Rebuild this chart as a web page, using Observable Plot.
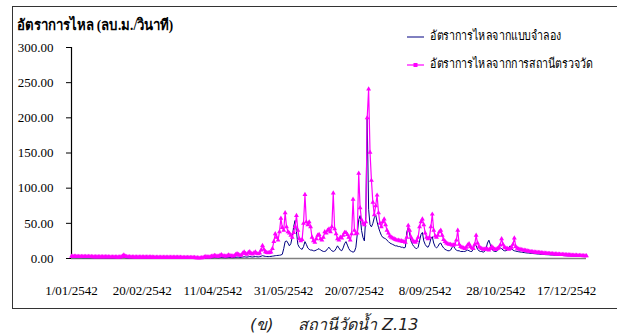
<!DOCTYPE html>
<html>
<head>
<meta charset="utf-8">
<script src="https://cdn.jsdelivr.net/npm/d3@7"></script>
<script src="https://cdn.jsdelivr.net/npm/@observablehq/plot@0.6"></script>
<style>
  html, body { margin: 0; padding: 0; background: #fff; }
  #wrap { position: relative; width: 617px; height: 333px; overflow: hidden; background: #fff;
          font-family: "Liberation Serif", "DejaVu Serif", serif; }
  #frame { position: absolute; left: 12px; top: 6px; width: 700px; height: 302.5px; border: 1.5px solid #333; box-sizing: border-box; }
  #chart { position: absolute; left: 0; top: 0; }
  #title { position: absolute; left: 17px; top: 15px; font-size: 15px; line-height: 20px; font-weight: bold; color: #000; white-space: nowrap;
           transform: scaleX(0.88); transform-origin: 0 50%; }
  .legline { position: absolute; left: 407px; }
  .legtxt { position: absolute; left: 430px; font-size: 13px; line-height: 16px; color: #000; white-space: nowrap;
            transform: scaleX(0.82); transform-origin: 0 50%; }
  .cap { position: absolute; top: 316px; font-size: 16px; line-height: 17px; font-style: italic; color: #222; white-space: nowrap;
         font-family: "DejaVu Sans", "Noto Sans", sans-serif; }
</style>
</head>
<body>
<div id="wrap">
  <div id="frame"></div>
  <div id="chart"></div>
  <div id="title">อัตราการไหล (ลบ.ม./วินาที)</div>
  <svg class="legline" style="top:33px" width="17" height="8"><line x1="0" y1="4" x2="17" y2="4" stroke="#000080" stroke-width="1"/></svg>
  <div class="legtxt" style="top:28px">อัตราการไหลจากแบบจำลอง</div>
  <svg class="legline" style="top:61px" width="17" height="8"><line x1="0" y1="4" x2="17" y2="4" stroke="#ff00ff" stroke-width="1.2"/><rect x="6.5" y="2" width="4" height="4" fill="#ff00ff"/></svg>
  <div class="legtxt" style="top:56px">อัตราการไหลจากการสถานีตรวจวัด</div>
  <div class="cap" style="left:250px">(ข)</div>
  <div class="cap" style="left:298px">สถานีวัดน้ำ Z.13</div>
</div>
<script>
// Day index within 2542 (1999): 0 = 1/01/2542
const tickDays = [0, 50, 100, 150, 200, 250, 300, 350];
const tickLabels = ["1/01/2542", "20/02/2542", "11/04/2542", "31/05/2542", "20/07/2542", "8/09/2542", "28/10/2542", "17/12/2542"];
const yTicks = [0, 50, 100, 150, 200, 250, 300];

// Flow from the model (m3/s), one value per day
const simulated = [
  1.2,1.2,1.2,1.1,1.1,1.1,1.1,1.1,1.0,1.0,
  1.0,1.0,1.0,1.0,1.0,0.9,0.9,0.9,0.9,0.9,
  0.9,0.9,0.9,0.9,0.8,0.8,0.8,0.8,0.8,0.8,
  0.8,0.8,0.8,0.8,0.8,0.9,1.4,1.8,1.2,0.9,
  0.8,0.8,0.8,0.8,0.7,0.7,0.7,0.7,0.7,0.7,
  0.7,0.7,0.7,0.7,0.7,0.7,0.7,0.6,0.6,0.6,
  0.6,0.6,0.6,0.6,0.6,0.6,0.6,0.6,0.6,0.6,
  0.6,0.6,0.6,0.6,0.5,0.5,0.5,0.5,0.5,0.5,
  0.5,0.5,0.5,0.5,0.5,0.5,0.5,0.5,0.5,0.5,
  0.5,0.5,0.5,0.6,0.8,1.0,0.9,0.8,0.9,1.0,
  1.1,1.3,1.2,1.1,1.0,1.3,1.5,1.3,1.2,1.1,
  1.2,1.5,1.4,1.3,1.2,1.3,1.6,2.0,1.8,1.6,
  1.7,2.1,2.5,2.2,2.0,2.4,2.8,2.4,2.2,2.5,
  2.8,2.5,2.3,2.6,3.2,4.0,3.5,3.0,2.8,2.7,
  2.8,3.0,3.3,3.6,4.0,4.2,4.4,4.6,5.0,6.0,
  14,24,25,22,18,21,30,45,54,38,
  20,16,14,13,17,24,20,15,13,12,
  12,11,11,12,13,14,12,11,10,10,
  11,14,16,13,11,10,11,14,18,15,
  12,11,15,21,24,19,14,11,10,9,
  10,16,35,55,61,40,30,25,60,200,
  70,48,45,50,58,62,52,44,38,33,
  30,29,28,26,24,22,21,20,19,18,
  18,17,17,16,16,15,16,38,44,35,
  25,20,17,15,14,16,25,34,37,25,
  20,17,16,20,28,31,22,17,15,17,
  21,22,18,15,13,12,11,11,12,16,
  18,14,12,11,11,10,10,10,10,11,
  12,11,10,10,14,22,18,13,11,10,
  10,9,10,14,22,26,20,14,11,10,
  10,11,13,15,14,12,11,11,12,15,
  18,14,12,11,10.5,10,9.6,9.3,9.0,8.7,
  8.4,8.1,7.9,7.7,7.5,7.3,7.1,6.9,6.7,6.5,
  6.3,6.1,6.0,5.8,5.7,5.5,5.4,5.3,5.1,5.0,
  4.9,4.8,4.7,4.6,4.5,4.4,4.3,4.2,4.1,4.0,
  3.9,3.8,3.8,3.7,3.6,3.5,3.5,3.4,3.3,3.3,
  3.2,3.1,3.1,3.0,3.0
];

// Flow measured at the gauging station (m3/s), one value per day
const observed = [
  3.2,3.1,3.0,3.0,2.9,2.9,2.8,2.8,2.8,2.7,
  2.7,2.7,2.6,2.6,2.6,2.5,2.5,2.5,2.5,2.4,
  2.4,2.4,2.4,2.3,2.3,2.3,2.3,2.2,2.2,2.2,
  2.2,2.2,2.1,2.1,2.1,2.4,3.5,5.0,3.2,2.6,
  2.4,2.3,2.2,2.2,2.1,2.1,2.1,2.0,2.0,2.0,
  2.0,2.0,1.9,1.9,1.9,1.9,1.9,1.9,1.8,1.8,
  1.8,1.8,1.8,1.8,1.8,1.7,1.7,1.7,1.7,1.7,
  1.7,1.7,1.6,1.6,1.6,1.6,1.6,1.6,1.5,1.5,
  1.5,1.5,1.5,1.5,1.4,1.4,1.3,1.2,1.0,0.9,
  0.8,0.8,0.9,1.2,2.0,2.6,2.2,2.0,2.4,3.0,
  3.5,4.2,3.8,3.2,3.0,4.5,5.2,4.0,3.5,3.3,
  3.8,5.0,4.2,3.6,3.4,4.0,5.5,6.8,5.5,4.6,
  5.0,7.5,9.0,7.0,6.0,8.5,9.5,7.0,6.2,8.0,
  9.0,7.2,6.5,7.8,12.0,18.5,13.0,9.5,8.5,8.0,
  8.5,9.0,14,24,35,30,26,38,57,44,
  40,65,45,38,36,33,30,37,45,61,
  40,28,25,27,50,91,52,48,52,45,
  30,25,23,28,33,34,28,26,30,38,
  36,40,42,38,45,93,42,35,28,26,
  30,29,33,37,37,34,30,26,35,84,
  40,35,36,121,72,55,50,48,52,200,
  241,151,111,80,62,75,90,65,50,45,
  52,56,48,40,36,32,30,29,28,27,
  26,26,25,25,24,24,23,30,47,40,
  30,26,24,23,25,30,45,52,56,48,
  36,30,28,30,45,63,40,32,30,33,
  38,40,33,27,24,22,21,20,20,19,
  19,20,26,40,20,17,16,15,14,16,
  19,21,17,15,14,20,33,22,17,15,
  14,13,13,14,13,12,14,17,15,13,
  13,14,15,19,28,20,16,15,14,13,
  14,16,20,29,17,14.5,13.5,13,12.5,12,
  11.6,11.2,10.8,10.4,10,9.7,9.4,9.1,8.9,8.7,
  8.5,8.3,8.1,7.9,7.7,7.5,7.3,7.1,7.0,6.8,
  6.6,6.5,6.3,6.2,6.0,5.9,5.7,5.6,5.5,5.3,
  5.2,5.1,5.0,4.8,4.7,4.6,4.5,4.4,4.3,4.2,
  4.1,4.0,3.9,3.8,3.7
];

const simData = simulated.map((v, i) => ({day: i, flow: v}));
const obsData = observed.map((v, i) => ({day: i, flow: v}));

const chart = Plot.plot({
  width: 617,
  height: 333,
  marginLeft: 71,
  marginRight: 31,
  marginTop: 47,
  marginBottom: 75,
  style: {fontFamily: "'Liberation Serif', 'DejaVu Serif', serif", fontSize: "13px", background: "transparent", color: "#000"},
  x: {domain: [0, 364]},
  y: {domain: [0, 300]},
  marks: [
    Plot.ruleY([0], {stroke: "#808080", strokeWidth: 1.5}),
    Plot.ruleX([0], {y1: 0, y2: 300, stroke: "#000", strokeWidth: 1.2}),
    Plot.axisY({ticks: yTicks, tickFormat: d => d.toFixed(2), tickSize: 5, tickPadding: 13, label: null, fontSize: 13}),
    Plot.axisX({ticks: tickDays, tickFormat: d => tickLabels[tickDays.indexOf(d)], tickSize: 0, tickPadding: 27, label: null, fontSize: 13}),
    Plot.line(simData, {x: "day", y: "flow", stroke: "#000080", strokeWidth: 1}),
    Plot.line(obsData, {x: "day", y: "flow", stroke: "#ff00ff", strokeWidth: 1.2}),
    Plot.dot(obsData, {x: "day", y: "flow", symbol: "triangle", r: 1.8, fill: "#ff00ff", stroke: "none"})
  ]
});
document.getElementById("chart").appendChild(chart);
</script>
</body>
</html>
